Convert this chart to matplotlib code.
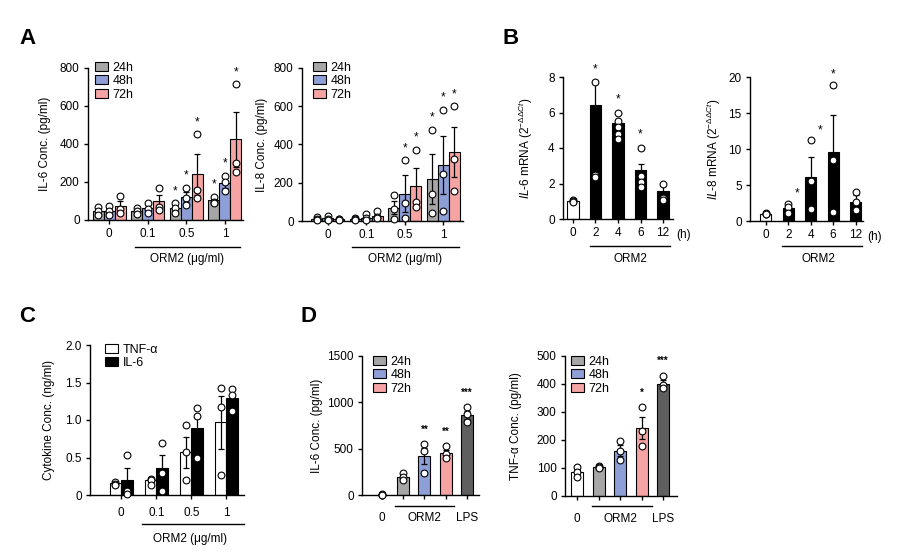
#!/usr/bin/env python3

import numpy as np
import matplotlib.pyplot as plt
from matplotlib.patches import Patch
from matplotlib.lines import Line2D

plt.rcParams['font.family'] = ['Liberation Sans', 'DejaVu Sans']
plt.rcParams['mathtext.fontset'] = 'custom'
plt.rcParams['mathtext.rm'] = 'Liberation Sans'
plt.rcParams['mathtext.it'] = 'Liberation Sans:italic'
plt.rcParams['font.size'] = 8.5

W, H = 902, 556
FS = 8.5

GRAY = '#a6a6a6'
BLUE = '#8e9ed6'
PINK = '#f5a3a3'
DARK = '#5f5f5f'

times = ['24h', '48h', '72h']
doses = ['0', '0.1', '0.5', '1']
hours = ['0', '2', '4', '6', '12']

# ---- A: IL-6 / IL-8 protein (pg/ml), series = 24h, 48h, 72h ----
a_il6_means = [[48, 47, 62, 103], [50, 62, 121, 195], [75, 98, 241, 425]]
a_il6_errs = [[12, 10, 14, 10], [15, 15, 27, 25], [25, 35, 107, 145]]
a_il6_points = [
    [[70, 50, 25], [65, 45, 30], [88, 62, 38], [123, 97, 88]],
    [[75, 50, 25], [90, 60, 35], [170, 114, 79], [234, 200, 152]],
    [[125, 60, 35], [170, 70, 55], [452, 158, 114], [717, 302, 255]],
]
a_il6_stars = [(0, 2), (1, 2), (2, 2), (0, 3), (1, 3), (2, 3)]

a_il8_means = [[12, 10, 70, 220], [14, 18, 143, 293], [8, 28, 182, 360]]
a_il8_errs = [[5, 3, 36, 130], [7, 9, 96, 152], [2, 11, 95, 130]]
a_il8_points = [
    [[20, 10, 5], [15, 10, 5], [138, 61, 12], [477, 143, 40]],
    [[28, 10, 5], [35, 15, 5], [320, 95, 15], [582, 246, 52]],
    [[10, 8, 5], [50, 20, 15], [373, 99, 73], [601, 322, 157]],
]
a_il8_stars = [(1, 2), (2, 2), (0, 3), (1, 3), (2, 3)]

# ---- B: mRNA (2^-ddCt) over hours ----
b_il6_means = [1.0, 6.4, 5.4, 2.75, 1.55]
b_il6_errs = [0.05, 1.3, 0.15, 0.35, 0.3]
b_il6_points = [[1.05, 1.0, 0.97], [7.7, 2.5, 2.35], [6.0, 5.5, 5.2, 4.8, 4.5],
                [4.0, 2.4, 2.1, 1.8], [2.0, 1.2, 1.05]]
b_il6_stars = [1, 2, 3]

b_il8_means = [1.0, 1.85, 6.1, 9.6, 2.7]
b_il8_errs = [0.05, 0.4, 2.8, 5.1, 0.9]
b_il8_points = [[1.05, 1.0, 0.95], [2.4, 2.0, 1.15], [11.2, 5.5, 1.6],
                [18.9, 8.5, 1.3], [4.0, 2.6, 1.5]]
b_il8_stars = [1, 2, 3]

# ---- C: cytokine (ng/ml), TNF-a and IL-6 ----
c_tnf_means = [0.16, 0.2, 0.57, 0.97]
c_tnf_errs = [0.02, 0.03, 0.21, 0.35]
c_tnf_points = [[0.18, 0.15, 0.14], [0.22, 0.2, 0.14], [0.94, 0.57, 0.2], [1.43, 1.18, 0.27]]
c_il6_means = [0.2, 0.36, 0.9, 1.29]
c_il6_errs = [0.16, 0.18, 0.13, 0.06]
c_il6_points = [[0.53, 0.06, 0.02], [0.69, 0.3, 0.06], [1.16, 1.05, 0.5], [1.41, 1.33, 1.12]]

# ---- D: 0, ORM2 24h/48h/72h, LPS ----
d_labels = ['0', '', 'ORM2', '', 'LPS']
d_il6_means = [5, 190, 420, 450, 860]
d_il6_errs = [2, 20, 87, 40, 45]
d_il6_points = [[8, 5, 3], [233, 190, 165], [549, 474, 233], [528, 440, 395], [951, 870, 790]]
d_il6_stars = ['', '', '**', '**', '***']

d_tnf_means = [85, 105, 162, 243, 400]
d_tnf_errs = [9, 3, 19, 40, 14]
d_tnf_points = [[102, 85, 69], [108, 104, 100], [196, 160, 130], [318, 233, 178], [429, 395, 385]]
d_tnf_stars = ['', '', '', '*', '***']


def fx(x):
    return x / W


def fy(y):
    return 1 - y / H


def make_ax(fig, left, top, right, bottom):
    ax = fig.add_axes([fx(left), fy(bottom), (right - left) / W, (bottom - top) / H])
    ax.spines['top'].set_visible(False)
    ax.spines['right'].set_visible(False)
    ax.spines['left'].set_linewidth(1)
    ax.spines['bottom'].set_linewidth(1)
    ax.tick_params(direction='out', length=3, width=1, labelsize=FS, pad=3)
    return ax


def draw_bar(ax, x, mean, err, pts, color, width):
    ax.bar(x, mean, width, color=color, edgecolor='black', linewidth=0.8, zorder=2)
    ax.errorbar(x, mean, yerr=err, fmt='none', ecolor='black', elinewidth=0.9,
                capsize=2.2, capthick=0.9, zorder=3)
    ax.scatter([x] * len(pts), pts, s=24, facecolor='white', edgecolor='black',
               linewidth=0.8, zorder=4, clip_on=False)


def star(ax, x, y, s, size=8.5, weight='normal'):
    ax.text(x, y, s, ha='center', va='center', fontsize=size, fontweight=weight, clip_on=False)


def ylabel(ax, text, xpx):
    ax.set_ylabel(text, fontsize=FS)
    pos = ax.get_position()
    ax.yaxis.set_label_coords(fx(xpx), pos.y0 + pos.height / 2, transform=fig.transFigure)


def fig_line(x0, x1, y):
    fig.add_artist(Line2D([fx(x0), fx(x1)], [fy(y), fy(y)], color='black', lw=1))


def legend(ax, labels, colors, xpx, ypx):
    handles = [Patch(facecolor=c, edgecolor='black', linewidth=0.8) for c in colors]
    ax.legend(handles, labels, loc='upper left', bbox_to_anchor=(fx(xpx), fy(ypx)),
              bbox_transform=fig.transFigure, frameon=False, fontsize=9,
              handlelength=1.0, handleheight=0.75, handletextpad=0.4,
              labelspacing=0.1, borderaxespad=0, borderpad=0)


def panel_a(ax, means, errs, points, stars, off):
    width = 0.286
    colors = [GRAY, BLUE, PINK]
    for j in range(3):
        for i in range(4):
            x = i + (j - 1) * width
            draw_bar(ax, x, means[j][i], errs[j][i], points[j][i], colors[j], width)
            if (j, i) in stars:
                top = max(max(points[j][i]), means[j][i] + errs[j][i])
                star(ax, x, top + off, '*')
    ax.set_ylim(0, 800)
    ax.set_yticks(range(0, 801, 200))
    ax.set_xticks(range(4))
    ax.set_xticklabels(doses)


fig = plt.figure(figsize=(W / 100, H / 100), dpi=100)

# ---------------- A ----------------
ax = make_ax(fig, 88, 68, 243, 220)
panel_a(ax, a_il6_means, a_il6_errs, a_il6_points, a_il6_stars, 62)
ax.set_xlim(-0.55, 3.47)
ylabel(ax, 'IL-6 Conc. (pg/ml)', 51)
legend(ax, times, [GRAY, BLUE, PINK], 95, 62)
fig_line(135, 240, 247)
fig.text(fx(187), fy(259), 'ORM2 (μg/ml)', ha='center', va='center', fontsize=FS)

ax = make_ax(fig, 302, 68, 463, 221)
panel_a(ax, a_il8_means, a_il8_errs, a_il8_points, a_il8_stars, 62)
ax.set_xlim(-0.67, 3.51)
ylabel(ax, 'IL-8 Conc. (pg/ml)', 268)
legend(ax, times, [GRAY, BLUE, PINK], 313, 62)
fig_line(352, 459, 247)
fig.text(fx(405), fy(259), 'ORM2 (μg/ml)', ha='center', va='center', fontsize=FS)

# ---------------- B ----------------
for (l, t, r, b, means, errs, pts, stars, ymax, step, lab, lx, xl, off, dxs, hx) in [
        (563, 77, 673, 219, b_il6_means, b_il6_errs, b_il6_points, b_il6_stars, 8, 2,
         r'$\it{IL}$-6 mRNA (2$^{-\Delta\Delta Ct}$)', 535, (-0.44, 4.44), 0.75, [0, 0, 0, 0, 0], 676),
        (750, 77, 863, 221, b_il8_means, b_il8_errs, b_il8_points, b_il8_stars, 20, 5,
         r'$\it{IL}$-8 mRNA (2$^{-\Delta\Delta Ct}$)', 723, (-0.7, 4.33), 1.4, [0, 0.4, 0.4, 0, 0], 867)]:
    ax = make_ax(fig, l, t, r, b)
    for i in range(5):
        c = 'white' if i == 0 else 'black'
        draw_bar(ax, i, means[i], errs[i], pts[i], c, 0.5)
        if i in stars:
            top = max(max(pts[i]), means[i] + errs[i])
            star(ax, i + dxs[i], top + off, '*')
    ax.set_ylim(0, ymax)
    ax.set_yticks(np.arange(0, ymax + 0.1, step))
    ax.set_xlim(*xl)
    ax.set_xticks(range(5))
    ax.set_xticklabels(hours)
    ylabel(ax, lab, lx)
    fig.text(fx(hx), fy(b + 16), '(h)', ha='left', va='center', fontsize=FS)

fig_line(590, 670, 246)
fig.text(fx(630), fy(259), 'ORM2', ha='center', va='center', fontsize=FS)
fig_line(782, 862, 246)
fig.text(fx(818), fy(259), 'ORM2', ha='center', va='center', fontsize=FS)

# ---------------- C ----------------
ax = make_ax(fig, 90, 345, 244, 495)
w = 0.33
for i in range(4):
    draw_bar(ax, i - w / 2, c_tnf_means[i], c_tnf_errs[i], c_tnf_points[i], 'white', w)
    draw_bar(ax, i + w / 2, c_il6_means[i], c_il6_errs[i], c_il6_points[i], 'black', w)
ax.set_ylim(0, 2.0)
ax.set_yticks([0, 0.5, 1.0, 1.5, 2.0])
ax.set_yticklabels(['0', '0.5', '1.0', '1.5', '2.0'])
ax.set_xlim(-0.89, 3.5)
ax.set_xticks(range(4))
ax.set_xticklabels(doses)
ax.tick_params(axis='x', pad=6)
ylabel(ax, 'Cytokine Conc. (ng/ml)', 55)
legend(ax, ['TNF-α', 'IL-6'], ['white', 'black'], 105, 344)
fig_line(142, 244, 524)
fig.text(fx(190), fy(539), 'ORM2 (μg/ml)', ha='center', va='center', fontsize=FS)

# ---------------- D ----------------
d_colors = ['white', GRAY, BLUE, PINK, DARK]
for (l, t, r, b, means, errs, pts, stars, ymax, step, lab, lx, xl, off, lgx, lnx) in [
        (362, 356, 479, 495, d_il6_means, d_il6_errs, d_il6_points, d_il6_stars, 1500, 500,
         'IL-6 Conc. (pg/ml)', 323, (-0.92, 4.56), 150, 373, (395, 454)),
        (565, 356, 677, 496, d_tnf_means, d_tnf_errs, d_tnf_points, d_tnf_stars, 500, 100,
         'TNF-α Conc. (pg/ml)', 522, (-0.56, 4.65), 52, 571, (592, 652))]:
    ax = make_ax(fig, l, t, r, b)
    for i in range(5):
        draw_bar(ax, i, means[i], errs[i], pts[i], d_colors[i], 0.56)
        if stars[i]:
            top = max(max(pts[i]), means[i] + errs[i])
            star(ax, i, top + off, stars[i], size=7, weight='bold')
    ax.set_ylim(0, ymax)
    ax.set_yticks(np.arange(0, ymax + 1, step))
    ax.set_xlim(*xl)
    ax.set_xticks(range(5))
    ax.set_xticklabels(d_labels)
    ax.tick_params(axis='x', pad=9)
    ylabel(ax, lab, lx)
    legend(ax, times, [GRAY, BLUE, PINK], lgx, 356)
    fig_line(lnx[0], lnx[1], 506)

# panel letters
for s, x, y in [('A', 27, 38), ('B', 511, 38), ('C', 27, 317), ('D', 309, 317)]:
    fig.text(fx(x), fy(y), s, ha='center', va='center', fontsize=16, fontweight='bold')

fig.savefig('out.png', dpi=100)
